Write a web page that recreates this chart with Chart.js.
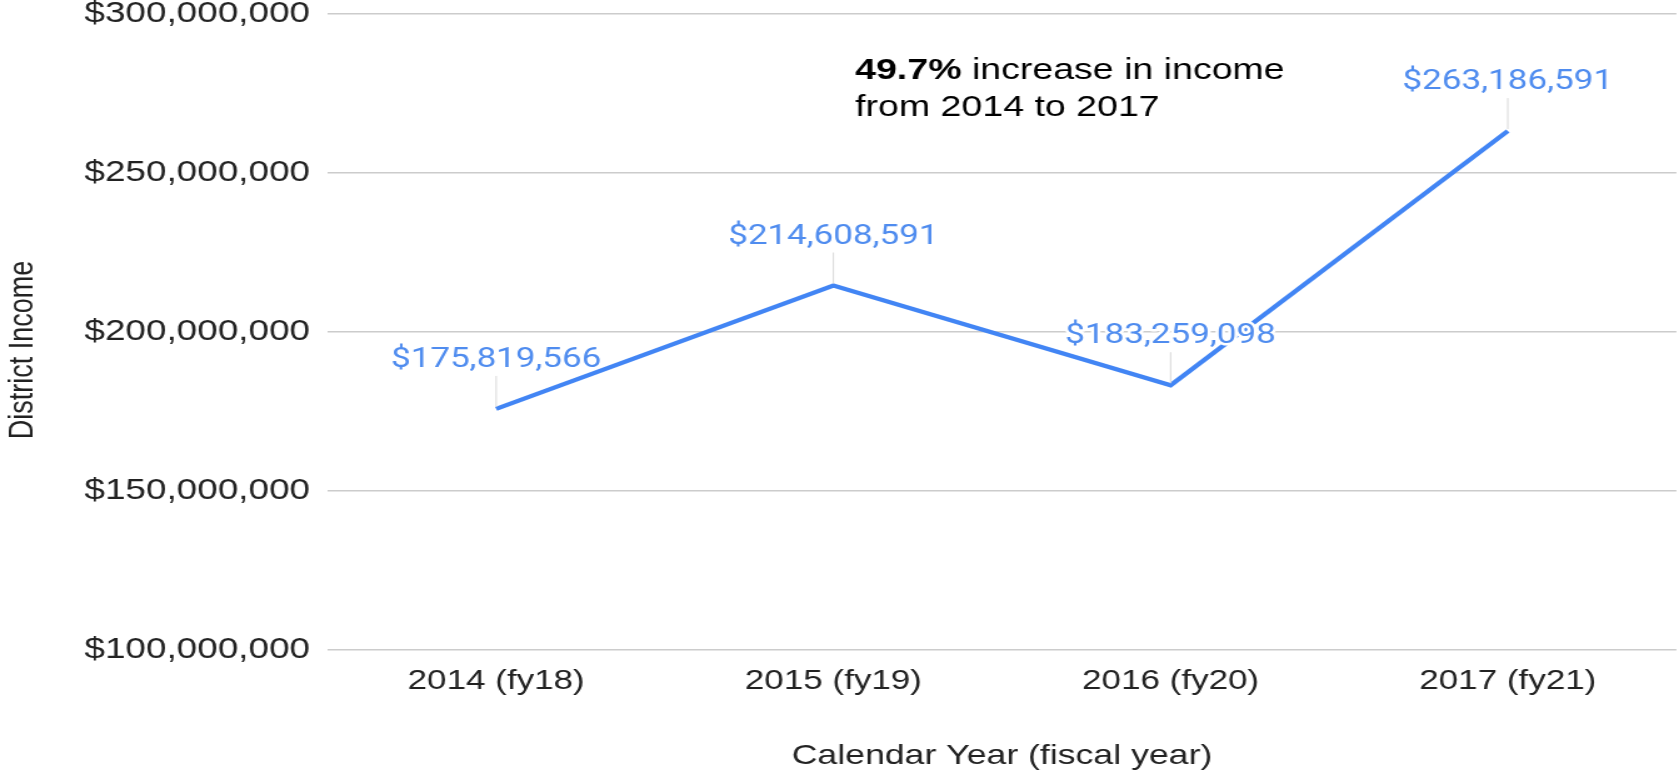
<!DOCTYPE html>
<html>
<head>
<meta charset="utf-8">
<script src="https://cdn.jsdelivr.net/npm/chart.js@4.4.1/dist/chart.umd.min.js"></script>
<style>
  html, body { margin: 0; padding: 0; background: #fff; overflow: hidden; }
  #wrap { position: absolute; left: 0; top: 0; width: 1343px; height: 772px; transform: scaleX(1.2502); transform-origin: 0 0; }
</style>
</head>
<body>
<div id="wrap"><canvas id="c"></canvas></div>
<script>
const categories = ['2014 (fy18)', '2015 (fy19)', '2016 (fy20)', '2017 (fy21)'];
const incomeValues = [175819566, 214608591, 183259098, 263186591];
const yTickMin = 100000000;
const yTickMax = 300000000;
const yTickStep = 50000000;
const yAxisTitle = 'District Income';
const xAxisTitle = 'Calendar Year (fiscal year)';
const noteBold = '49.7%';
const noteLine1 = ' increase in income';
const noteLine2 = 'from 2014 to 2017';

const fmt = v => '$' + Number(v).toLocaleString('en-US');
const FONT = '"Liberation Sans", Arial, sans-serif';

const labelPlugin = {
  id: 'pointLabels',
  afterDatasetsDraw(chart) {
    const ctx = chart.ctx;
    const meta = chart.getDatasetMeta(0);
    ctx.save();
    meta.data.forEach((pt, i) => {
      const x = pt.x, y = pt.y;
      const ly = y - 49;
      ctx.strokeStyle = '#d9d9d9';
      ctx.lineWidth = 1;
      ctx.beginPath();
      ctx.moveTo(x, ly + 16);
      ctx.lineTo(x, y - 2);
      ctx.stroke();
      ctx.font = '28px Roboto';
      ctx.textAlign = 'center';
      ctx.textBaseline = 'middle';
      ctx.lineJoin = 'round';
      ctx.strokeStyle = '#ffffff';
      ctx.lineWidth = 5;
      const t = fmt(incomeValues[i]);
      ctx.strokeText(t, x, ly);
      ctx.fillStyle = '#4f8cef';
      ctx.fillText(t, x, ly);
    });
    // annotation
    const ax = 684;
    ctx.textAlign = 'left';
    ctx.textBaseline = 'middle';
    ctx.fillStyle = '#000000';
    ctx.font = 'bold 30px ' + FONT;
    ctx.fillText(noteBold, ax, 71);
    const bw = ctx.measureText(noteBold).width;
    ctx.font = '30px ' + FONT;
    ctx.fillText(noteLine1, ax + bw, 71);
    ctx.fillText(noteLine2, ax, 108);
    // y axis title
    ctx.save();
    ctx.translate(19, 350);
    ctx.rotate(-Math.PI / 2);
    ctx.textAlign = 'center';
    ctx.textBaseline = 'middle';
    ctx.fillStyle = '#222222';
    ctx.font = '27px ' + FONT;
    ctx.fillText(yAxisTitle, 0, 0);
    ctx.restore();
    ctx.restore();
  }
};

new Chart(document.getElementById('c'), {
  type: 'line',
  data: {
    labels: categories,
    datasets: [{
      data: incomeValues,
      borderColor: '#4285f4',
      borderWidth: 4.2,
      pointRadius: 0,
      pointHoverRadius: 0,
      tension: 0,
      fill: false
    }]
  },
  options: {
    responsive: true,
    maintainAspectRatio: false,
    animation: false,
    events: [],
    layout: { padding: { top: 14, left: 0, right: 0, bottom: 0 } },
    plugins: {
      legend: { display: false },
      tooltip: { enabled: false }
    },
    scales: {
      x: {
        type: 'category',
        offset: true,
        grid: { display: false, drawTicks: false },
        border: { display: false },
        ticks: {
          color: '#222222',
          padding: 14,
          font: { family: FONT, size: 28 },
          maxRotation: 0
        },
        title: {
          display: true,
          text: xAxisTitle,
          color: '#222222',
          font: { family: FONT, size: 28.5, lineHeight: 1.1 },
          padding: { top: 0, bottom: 0 }
        },
        afterFit(scale) { scale.height = 122; }
      },
      y: {
        min: yTickMin,
        max: yTickMax,
        grid: { color: '#cccccc', lineWidth: 1.6, drawTicks: false },
        border: { display: false },
        ticks: {
          stepSize: yTickStep,
          color: '#222222',
          padding: 14,
          font: { family: FONT, size: 29.5, lineHeight: 1 },
          callback: v => fmt(v)
        },
        title: { display: false },
        afterFit(scale) {
          scale.width = 262;
          scale.paddingTop = 14;
          scale.paddingBottom = 0;
        }
      }
    }
  },
  plugins: [labelPlugin]
});
</script>
</body>
</html>
